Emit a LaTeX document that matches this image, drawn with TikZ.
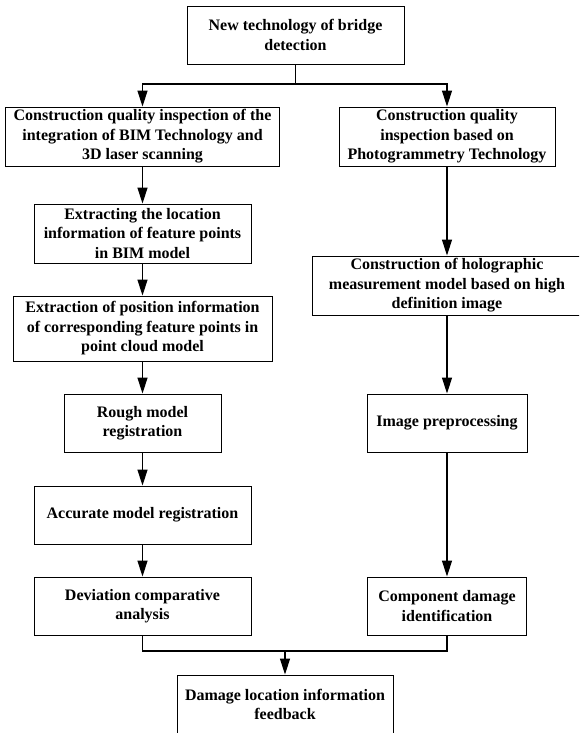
\documentclass[tikz,border=0pt]{standalone}
\usepackage{fontspec}
\setmainfont{Liberation Serif}
\usetikzlibrary{arrows.meta}
\tikzset{
  box/.style={draw=black, line width=0.9pt, inner sep=0pt, align=center,
    font=\bfseries\fontsize{16}{19.5}\selectfont},
  conn/.style={line width=1.2pt, draw=black},
  arr/.style={conn, -{Triangle[length=16pt,width=10pt]}}
}
\begin{document}
\begin{tikzpicture}[x=1pt,y=-1pt]
\path[use as bounding box, clip] (0,0) rectangle (579,733);
\fill[white] (0,0) rectangle (579,733);
\node[box, minimum width=217, minimum height=58] (top) at (295.5,35) {New technology of bridge\\detection};
\node[box, minimum width=274.5, minimum height=59] (l1) at (142.5,136.5) {Construction quality inspection of the\\integration of BIM Technology and\\3D laser scanning};
\node[box, minimum width=216, minimum height=59] (r1) at (447,136.5) {Construction quality\\inspection based on\\Photogrammetry Technology};
\node[box, minimum width=217, minimum height=59] (l2) at (142.5,233.5) {Extracting the location\\information of feature points\\in BIM model};
\node[box, minimum width=259, minimum height=65] (l3) at (142.5,328.5) {Extraction of position information\\of corresponding feature points in\\point cloud model};
\node[box, minimum width=270, minimum height=59] (r2) at (447,285.5) {Construction of holographic\\measurement model based on high\\definition image};
\node[box, minimum width=157, minimum height=58] (l4) at (142.5,423) {Rough model\\registration};
\node[box, minimum width=160, minimum height=58] (r3) at (447,423) {Image preprocessing};
\node[box, minimum width=217, minimum height=58] (l5) at (142.5,515) {Accurate model registration};
\node[box, minimum width=217, minimum height=58] (l6) at (142.5,606) {Deviation comparative\\analysis};
\node[box, minimum width=159, minimum height=58] (r4) at (447,606) {Component damage\\identification};
\node[box, minimum width=216, minimum height=59] (fb) at (285,704.5) {Damage location information\\feedback};
\coordinate (j1) at (295.5,84);
\coordinate (j2) at (285,651);
\draw[conn] (top.south) -- (j1);
\draw[arr] (j1) -| (l1.north);
\draw[arr] (j1) -| (r1.north);
\draw[arr] (l1) -- (l2);
\draw[arr] (l2) -- (l3);
\draw[arr] (l3) -- (l4);
\draw[arr] (l4) -- (l5);
\draw[arr] (l5) -- (l6);
\draw[arr] (r1) -- (r2);
\draw[arr] (r2) -- (r3);
\draw[arr] (r3) -- (r4);
\draw[conn] (l6.south) |- (j2) -| (r4.south);
\draw[arr] (j2) -- (fb.north);
\end{tikzpicture}
\end{document}
